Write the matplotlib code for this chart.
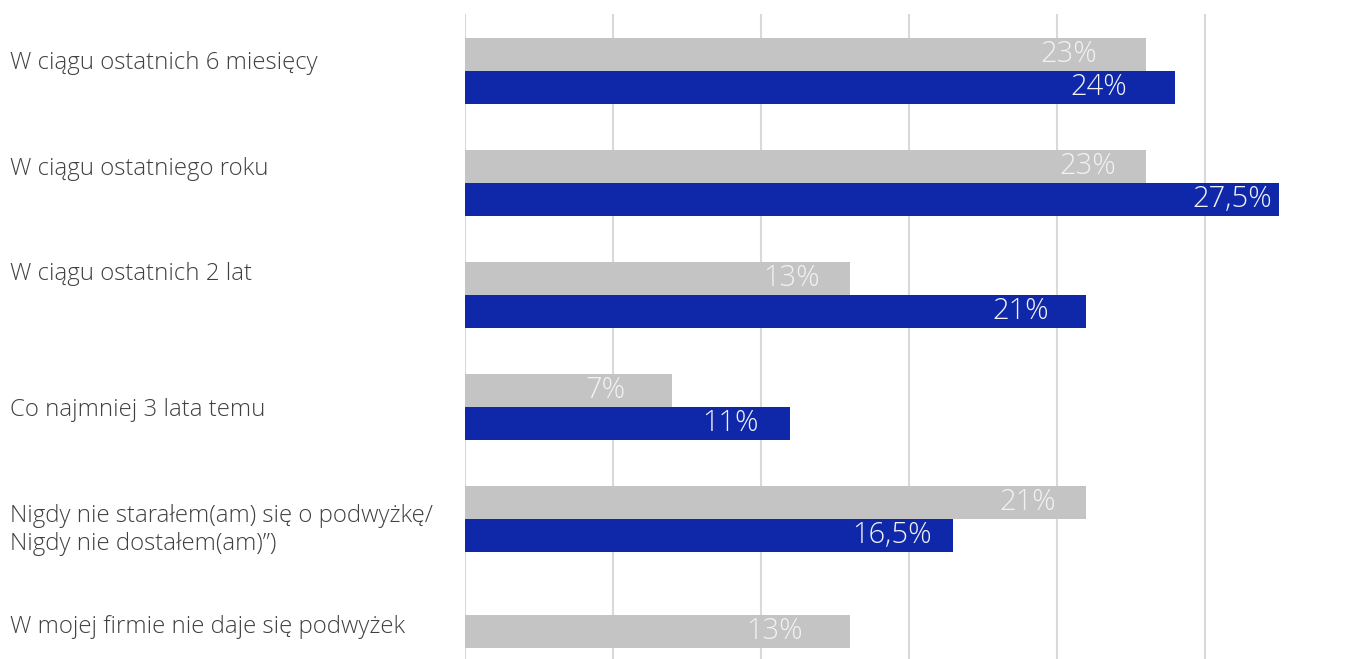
import numpy as np
import matplotlib
matplotlib.use('Agg')
import matplotlib.pyplot as plt

categories = ['W ciągu ostatnich 6 miesięcy',
              'W ciągu ostatniego roku',
              'W ciągu ostatnich 2 lat',
              'Co najmniej 3 lata temu',
              'Nigdy nie starałem(am) się o podwyżkę/\nNigdy nie dostałem(am)”)',
              'W mojej firmie nie daje się podwyżek']
gray_vals = [23, 23, 13, 7, 21, 13]
blue_vals = [24, 27.5, 21, 11, 16.5, np.nan]
gray_text = ['23%', '23%', '13%', '7%', '21%', '13%']
blue_text = ['24%', '27,5%', '21%', '11%', '16,5%', '']

# hand placement of the labels in the original (pixels)
gray_pad = [49, 30, 30, 46, 30, 47]
blue_pad = [48, 7, 37, 32, 21, 0]
cat_shift = [-8, -14, -20.5, 3, 11, -4]

GRAY = '#c4c4c4'
BLUE = '#0f28aa'
px = 72 / 100.

plt.rcParams['font.family'] = ['Open Sans', 'DejaVu Sans']

fig = plt.figure(figsize=(13.5, 6.59), dpi=100)
ax = fig.add_axes([464.7 / 1350, 0, 1 - 464.7 / 1350, (659 - 14) / 659])

h = 33 / 112.
n = len(categories)
for i in range(n):
    if np.isnan(blue_vals[i]):
        yg = i
    else:
        yg = i - h / 2
        yb = i + h / 2
        ax.barh(yb, blue_vals[i], height=h, color=BLUE, zorder=3)
        ax.annotate(blue_text[i], (blue_vals[i], yb), xytext=(-blue_pad[i] * px, 0),
                    textcoords='offset points', ha='right', va='center',
                    color='#f2f2f2', fontsize=21, fontweight='light', zorder=4)
    ax.barh(yg, gray_vals[i], height=h, color=GRAY, zorder=3)
    ax.annotate(gray_text[i], (gray_vals[i], yg), xytext=(-gray_pad[i] * px, 0),
                textcoords='offset points', ha='right', va='center',
                color='#f2f2f2', fontsize=21, fontweight='light', zorder=4)
    ycat = yg if np.isnan(blue_vals[i]) else i
    ax.annotate(categories[i], (10 / 1350, ycat), xycoords=('figure fraction', 'data'),
                xytext=(0, -cat_shift[i] * px), textcoords='offset points',
                ha='left', va='center', color='#404040', fontsize=17.3,
                fontweight='light', linespacing=1.2, annotation_clip=False)

ax.set_xlim(0, 29.9)
ax.set_ylim((659 - 71) / 112., (14 - 71) / 112.)
ax.set_xticks(np.arange(0, 26, 5))
ax.grid(axis='x', color='#d9d9d9', lw=1.5, zorder=0)
ax.tick_params(length=0, labelbottom=False, labelleft=False)
ax.set_yticks([])
for s in ax.spines.values():
    s.set_visible(False)

fig.savefig('out.png', dpi=100)
